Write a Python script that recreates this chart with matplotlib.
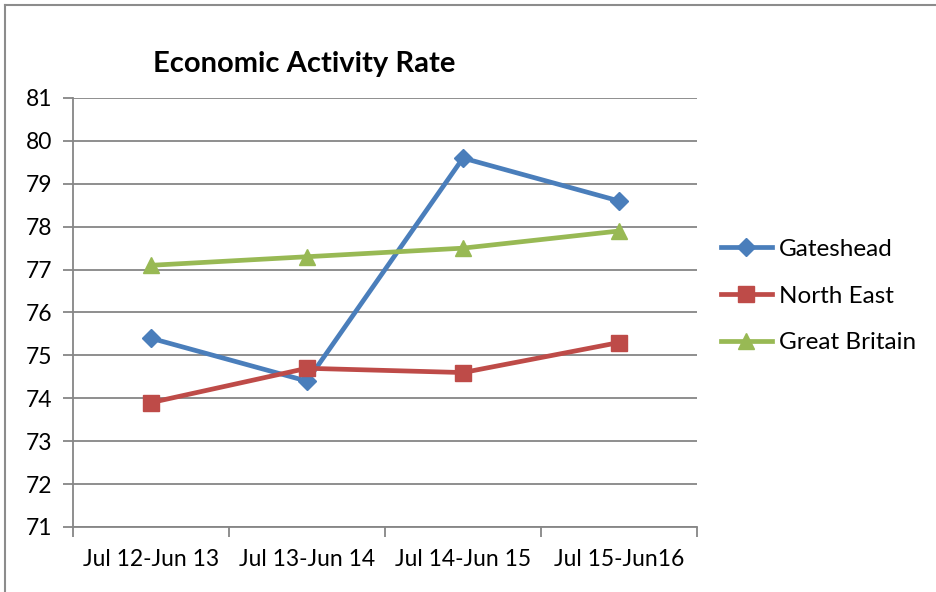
import matplotlib.pyplot as plt
from matplotlib.lines import Line2D
import numpy as np

periods = ["Jul 12-Jun 13", "Jul 13-Jun 14", "Jul 14-Jun 15", "Jul 15-Jun16"]
gateshead = [75.4, 74.4, 79.6, 78.6]
north_east = [73.9, 74.7, 74.6, 75.3]
great_britain = [77.1, 77.3, 77.5, 77.9]

plt.rcParams['font.family'] = ['Lato', 'DejaVu Sans']

fig = plt.figure(figsize=(9.37, 5.92), dpi=100)
ax = fig.add_axes([73/937, 1-527/592, (697-73)/937, (527-98)/592])

x = np.arange(len(periods))
ax.plot(x, gateshead, color='#4A7EBB', lw=3.4, marker='D', ms=9.5, label='Gateshead')
ax.plot(x, north_east, color='#BE4B48', lw=3.4, marker='s', ms=11.5, label='North East')
ax.plot(x, great_britain, color='#98B954', lw=3.4, marker='^', ms=11.5, label='Great Britain')

ax.set_xlim(-0.5, 3.5)
ax.set_ylim(71, 81)
ax.set_yticks(range(71, 82))
ax.grid(axis='y', color='#868686', lw=1.3)
ax.set_axisbelow(True)

ax.set_xticks(x)
ax.set_xticklabels(periods, fontsize=16.5)
ax.set_xticks(np.arange(-0.5, 4, 1), minor=True)
ax.tick_params(axis='x', which='major', length=0, pad=16)
ax.tick_params(axis='x', which='minor', length=7, color='#868686', width=1.3)
ax.tick_params(axis='y', length=7, color='#868686', width=1.3, labelsize=16.5, pad=8)

for s in ['top', 'right']:
    ax.spines[s].set_visible(False)
for s in ['left', 'bottom']:
    ax.spines[s].set_color('#868686')
    ax.spines[s].set_linewidth(1.3)

fig.text(153/937, 1-64/592, "Economic Activity Rate", fontsize=21, fontweight='bold',
         va='center', ha='left')

ax.legend(loc='center left', bbox_to_anchor=(699/937, 1-296/592),
          bbox_transform=fig.transFigure, frameon=False, fontsize=17.5,
          handlelength=2.1, labelspacing=1.05, handletextpad=0.3)

# chart border (left and top edges visible)
fig.add_artist(Line2D([5/937, 5/937], [0, 1-5/592], color='#8c8c8c', lw=1.5,
                      transform=fig.transFigure))
fig.add_artist(Line2D([5/937, 1], [1-5/592, 1-5/592], color='#8c8c8c', lw=1.5,
                      transform=fig.transFigure))

fig.savefig('out.png', dpi=100)
